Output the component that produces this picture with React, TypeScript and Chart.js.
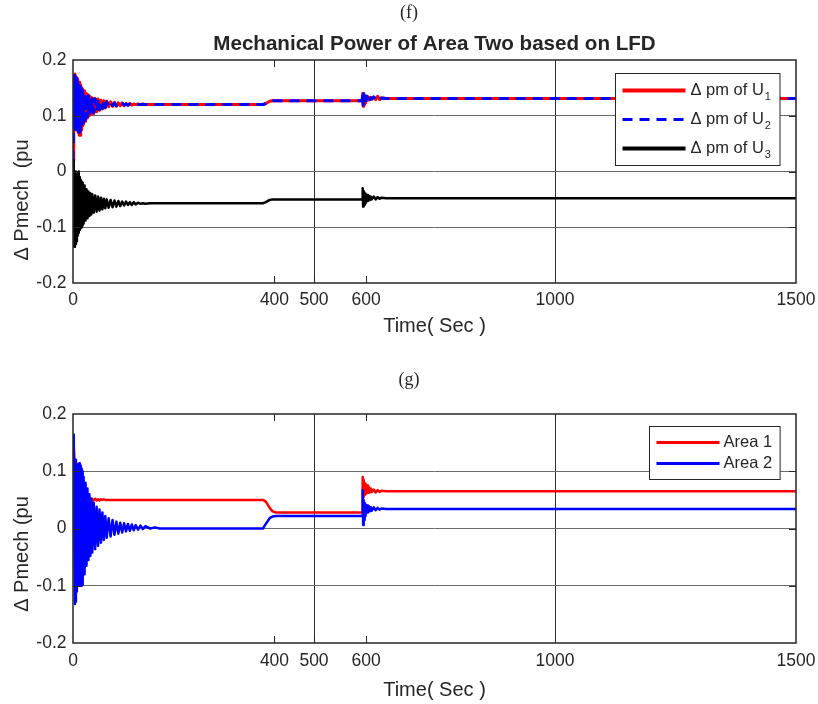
import { useEffect, useRef } from 'react';
import { Chart, registerables } from 'chart.js';

Chart.register(...registerables);

const FONT = '"Liberation Sans", Arial, Helvetica, sans-serif';
const SERIF = '"Liberation Serif", "DejaVu Serif", "Times New Roman", serif';
const INK = '#262626';

// ---------- data ----------
const timeSec = [
  0, 1, 2, 3, 4, 5, 6, 7, 8, 9, 10, 11, 12, 13, 14, 15, 16, 17, 18, 19, 20,
  22, 24, 26, 28, 30, 32, 34, 36, 38, 40,
  43, 46, 49, 52, 55, 58, 61, 64, 67, 70,
  74, 78, 82, 86, 90,
  94, 98, 102, 106, 110, 114, 118, 122, 126, 130,
  135, 140, 145, 150, 160, 170, 180, 200, 300,
  394, 400, 408, 414, 421, 450, 500,
  598, 600, 601, 602, 603, 604, 605, 606, 607, 608,
  610, 612, 614, 616, 618, 620,
  624, 628, 632, 636, 640,
  650, 700, 800, 1000, 1200, 1500,
];

// (f) mechanical power of the three units of area two
const pmU1 = [
  0.02, 0.07, 0.172, 0.09, 0.175, 0.075, 0.17, 0.09, 0.168, 0.08, 0.165, 0.07, 0.16, 0.065, 0.16, 0.065, 0.155, 0.075, 0.15, 0.082, 0.148,
  0.085, 0.145, 0.09, 0.14, 0.096, 0.137, 0.1, 0.134, 0.103, 0.132,
  0.104, 0.131, 0.107, 0.13, 0.11, 0.128, 0.112, 0.127, 0.114, 0.126,
  0.116, 0.125, 0.117, 0.124, 0.117,
  0.123, 0.118, 0.123, 0.118, 0.122, 0.119, 0.122, 0.119, 0.121, 0.12,
  0.121, 0.12, 0.121, 0.12, 0.12, 0.12, 0.12, 0.12, 0.12,
  0.12, 0.122, 0.126, 0.127, 0.127, 0.127, 0.127,
  0.127, 0.127, 0.14, 0.117, 0.139, 0.12, 0.137, 0.123, 0.135, 0.126,
  0.134, 0.128, 0.133, 0.129, 0.133, 0.13,
  0.133, 0.129, 0.135, 0.129, 0.132,
  0.131, 0.131, 0.131, 0.131, 0.131, 0.131,
];
const pmU2 = [
  0.02, 0.06, 0.165, 0.08, 0.172, 0.07, 0.168, 0.085, 0.17, 0.075, 0.162, 0.068, 0.158, 0.062, 0.155, 0.068, 0.152, 0.078, 0.148, 0.085, 0.145,
  0.088, 0.142, 0.093, 0.138, 0.098, 0.136, 0.101, 0.133, 0.104, 0.131,
  0.105, 0.13, 0.108, 0.129, 0.111, 0.127, 0.113, 0.126, 0.115, 0.125,
  0.117, 0.124, 0.118, 0.123, 0.118,
  0.122, 0.119, 0.122, 0.119, 0.121, 0.119, 0.121, 0.12, 0.121, 0.12,
  0.12, 0.12, 0.12, 0.12, 0.12, 0.12, 0.12, 0.12, 0.12,
  0.12, 0.122, 0.126, 0.127, 0.127, 0.127, 0.127,
  0.127, 0.128, 0.141, 0.119, 0.14, 0.121, 0.136, 0.124, 0.134, 0.127,
  0.135, 0.128, 0.134, 0.129, 0.132, 0.13,
  0.134, 0.129, 0.133, 0.13, 0.132,
  0.131, 0.131, 0.131, 0.131, 0.131, 0.131,
];
const pmU3 = [
  0.02, -0.06, 0.0, -0.135, -0.01, -0.13, 0.0, -0.125, -0.005, -0.115, -0.008, -0.11, 0.0, -0.105, -0.01, -0.102, -0.015, -0.1, -0.018, -0.097, -0.02,
  -0.093, -0.025, -0.088, -0.032, -0.084, -0.036, -0.08, -0.039, -0.077, -0.041,
  -0.074, -0.043, -0.072, -0.045, -0.07, -0.047, -0.068, -0.049, -0.066, -0.05,
  -0.065, -0.051, -0.064, -0.052, -0.063,
  -0.053, -0.062, -0.054, -0.061, -0.054, -0.06, -0.055, -0.06, -0.055, -0.059,
  -0.056, -0.058, -0.057, -0.058, -0.057, -0.057, -0.057, -0.057, -0.057,
  -0.057, -0.055, -0.051, -0.05, -0.05, -0.05, -0.05,
  -0.05, -0.05, -0.03, -0.063, -0.035, -0.06, -0.038, -0.057, -0.04, -0.055,
  -0.042, -0.053, -0.044, -0.051, -0.045, -0.05,
  -0.045, -0.05, -0.046, -0.049, -0.047,
  -0.048, -0.048, -0.048, -0.048, -0.048, -0.048,
];

// (g) mechanical power of the two areas
const areaOne = [
  0.0, 0.1, 0.145, 0.12, 0.06, 0.028, 0.05, 0.09, 0.113, 0.1, 0.075, 0.055, 0.045, 0.05, 0.06, 0.065, 0.06, 0.05, 0.045, 0.048, 0.055,
  0.065, 0.068, 0.06, 0.045, 0.052, 0.056, 0.048, 0.053, 0.049, 0.052,
  0.049, 0.052, 0.049, 0.051, 0.049, 0.051, 0.05, 0.051, 0.05, 0.05,
  0.05, 0.05, 0.05, 0.05, 0.05,
  0.05, 0.05, 0.05, 0.05, 0.05, 0.05, 0.05, 0.05, 0.05, 0.05,
  0.05, 0.05, 0.05, 0.05, 0.05, 0.05, 0.05, 0.05, 0.05,
  0.05, 0.047, 0.036, 0.03, 0.028, 0.028, 0.028,
  0.028, 0.028, 0.09, 0.055, 0.085, 0.058, 0.08, 0.06, 0.078, 0.061,
  0.075, 0.062, 0.072, 0.063, 0.07, 0.064,
  0.068, 0.063, 0.067, 0.064, 0.066,
  0.065, 0.065, 0.065, 0.065, 0.065, 0.065,
];
const areaTwo = [
  0.0, 0.08, 0.164, -0.05, -0.132, 0.12, -0.128, 0.1, -0.11, 0.11, -0.1, 0.112, -0.1, 0.114, -0.1, 0.11, -0.1, 0.105, -0.1, 0.1, -0.098,
  0.09, -0.08, 0.08, -0.065, 0.07, -0.055, 0.06, -0.048, 0.052, -0.042,
  0.045, -0.036, 0.038, -0.03, 0.033, -0.025, 0.028, -0.02, 0.022, -0.016,
  0.018, -0.014, 0.015, -0.011, 0.012,
  -0.009, 0.01, -0.007, 0.009, -0.005, 0.008, -0.004, 0.007, -0.003, 0.006,
  -0.002, 0.005, -0.001, 0.004, 0.0, 0.002, 0.0, 0.0, 0.0,
  0.0, 0.008, 0.018, 0.021, 0.022, 0.022, 0.022,
  0.022, 0.022, 0.067, 0.006, 0.05, 0.015, 0.045, 0.022, 0.042, 0.026,
  0.04, 0.028, 0.039, 0.03, 0.037, 0.031,
  0.037, 0.032, 0.036, 0.033, 0.035,
  0.034, 0.034, 0.034, 0.034, 0.034, 0.034,
];

const xTickValues = [0, 418, 500, 608, 1000, 1500];
const xTickLabels = ['0', '400', '500', '600', '1000', '1500'];
const xGridValues = [500, 1000];
const yTickValues = [-0.2, -0.1, 0, 0.1, 0.2];
const yTickLabels = ['-0.2', '-0.1', '0', '0.1', '0.2'];
const yGridValues = [-0.1, 0, 0.1];

const xAxisTitle = 'Time( Sec )';
const seriesBaseF = ['Δ pm of U', 'Δ pm of U', 'Δ pm of U'];
const seriesSubF = ['1', '2', '3'];
const seriesNamesG = ['Area 1', 'Area 2'];

// ---------- chart helpers ----------
type LegendEntry = { text: string; sub?: string; color: string; dash: number[]; width: number };
type LegendLayout = {
  right: number; top: number; firstRow: number; rowH: number;
  lineStart: number; lineLen: number; gap: number; padRight: number; fontSize: number;
};
type PanelSpec = {
  panelLabel: string; panelY: number;
  title?: string; titleY?: number;
  yTitle: string; yTitleOffset: number;
  legend: LegendEntry[]; legendLayout: LegendLayout;
  padTop: number; xAxisHeight: number; xTitlePadBottom: number; xTickPad: number;
  datasets: any[];
};

const toXY = (vals: number[]) => vals.map((v, i) => ({ x: timeSec[i], y: v }));

function makeChart(canvas: HTMLCanvasElement, spec: PanelSpec) {
  const decor = {
    id: 'decor',
    afterDraw(chart: any) {
      const { ctx, chartArea: a } = chart;
      const xs = chart.scales.x;
      const ys = chart.scales.y;
      ctx.save();
      // inward tick marks
      ctx.strokeStyle = INK;
      ctx.lineWidth = 1;
      ctx.setLineDash([]);
      ctx.beginPath();
      for (const v of xTickValues) {
        const px = Math.round(xs.getPixelForValue(v)) + 0.5;
        if (px < a.left + 2 || px > a.right - 2) continue;
        ctx.moveTo(px, a.bottom); ctx.lineTo(px, a.bottom - 7);
        ctx.moveTo(px, a.top); ctx.lineTo(px, a.top + 7);
      }
      for (const v of yTickValues) {
        const py = Math.round(ys.getPixelForValue(v)) + 0.5;
        if (py < a.top + 2 || py > a.bottom - 2) continue;
        ctx.moveTo(a.left, py); ctx.lineTo(a.left + 7, py);
        ctx.moveTo(a.right, py); ctx.lineTo(a.right - 7, py);
      }
      ctx.stroke();
      // frame
      ctx.lineWidth = 1.5;
      ctx.strokeRect(a.left, a.top, a.right - a.left, a.bottom - a.top);

      // legend
      const L = spec.legendLayout;
      const mainFont = `${L.fontSize}px ${FONT}`;
      const subFont = `${Math.round(L.fontSize * 0.68)}px ${FONT}`;
      let maxW = 0;
      for (const e of spec.legend) {
        ctx.font = mainFont;
        let w = ctx.measureText(e.text).width;
        if (e.sub) { ctx.font = subFont; w += 1 + ctx.measureText(e.sub).width; }
        maxW = Math.max(maxW, w);
      }
      const boxW = L.lineStart + L.lineLen + L.gap + maxW + L.padRight;
      const boxH = 2 * L.firstRow + (spec.legend.length - 1) * L.rowH;
      const bx = Math.round(a.right - L.right - boxW) + 0.5;
      const by = Math.round(a.top + L.top) + 0.5;
      ctx.fillStyle = '#ffffff';
      ctx.fillRect(bx, by, boxW, boxH);
      ctx.strokeStyle = INK;
      ctx.lineWidth = 1;
      ctx.strokeRect(bx, by, boxW, boxH);
      spec.legend.forEach((e, i) => {
        const ry = by + L.firstRow + i * L.rowH;
        ctx.beginPath();
        ctx.strokeStyle = e.color;
        ctx.lineWidth = e.width;
        ctx.setLineDash(e.dash);
        ctx.moveTo(bx + L.lineStart, ry);
        ctx.lineTo(bx + L.lineStart + L.lineLen, ry);
        ctx.stroke();
        ctx.setLineDash([]);
        const tx = bx + L.lineStart + L.lineLen + L.gap;
        ctx.fillStyle = INK;
        ctx.textAlign = 'left';
        ctx.textBaseline = 'middle';
        ctx.font = mainFont;
        ctx.fillText(e.text, tx, ry);
        if (e.sub) {
          const w = ctx.measureText(e.text).width;
          ctx.font = subFont;
          ctx.fillText(e.sub, tx + w + 1, ry + 6);
        }
      });

      // panel label
      ctx.fillStyle = INK;
      ctx.textAlign = 'center';
      ctx.textBaseline = 'middle';
      ctx.font = `18px ${SERIF}`;
      ctx.fillText(spec.panelLabel, 409, spec.panelY);
      // title
      if (spec.title) {
        ctx.font = `bold 20.6px ${FONT}`;
        ctx.fillText(spec.title, (a.left + a.right) / 2, spec.titleY);
      }
      // y axis title
      ctx.save();
      ctx.translate(22, a.top + spec.yTitleOffset);
      ctx.rotate(-Math.PI / 2);
      ctx.font = `20px ${FONT}`;
      ctx.fillText(spec.yTitle, 0, 0);
      ctx.restore();
      ctx.restore();
    },
  };

  return new Chart(canvas, {
    type: 'line',
    data: { datasets: spec.datasets },
    options: {
      responsive: false,
      animation: false,
      events: [],
      layout: { padding: { top: spec.padTop, right: 22, bottom: 0, left: 0 } },
      plugins: {
        legend: { display: false },
        title: { display: false },
        tooltip: { enabled: false },
      },
      elements: {
        point: { radius: 0 },
        line: { tension: 0, borderJoinStyle: 'round', borderCapStyle: 'butt' },
      },
      scales: {
        x: {
          type: 'linear',
          min: 0,
          max: 1500,
          afterBuildTicks: (s: any) => { s.ticks = xTickValues.map((v) => ({ value: v })); },
          afterFit: (s: any) => {
            s.height = spec.xAxisHeight;
            s.paddingLeft = 0;
            s.paddingRight = 0;
          },
          ticks: {
            autoSkip: false,
            maxRotation: 0,
            padding: spec.xTickPad,
            color: INK,
            font: { family: FONT, size: 17.5 },
            callback: (_v: any, i: number) => xTickLabels[i],
          },
          grid: {
            drawTicks: false,
            lineWidth: 1,
            color: (c: any) => (xGridValues.includes(c.tick?.value) ? '#303030' : 'rgba(0,0,0,0)'),
          },
          border: { display: false },
          title: {
            display: true,
            text: xAxisTitle,
            color: INK,
            font: { family: FONT, size: 20 },
            padding: { top: 0, bottom: spec.xTitlePadBottom },
          },
        },
        y: {
          type: 'linear',
          min: -0.2,
          max: 0.2,
          afterBuildTicks: (s: any) => { s.ticks = yTickValues.map((v) => ({ value: v })); },
          afterFit: (s: any) => { s.width = 73; },
          ticks: {
            padding: 6.5,
            color: INK,
            font: { family: FONT, size: 17.5 },
            callback: (_v: any, i: number) => yTickLabels[i],
          },
          grid: {
            drawTicks: false,
            lineWidth: 1,
            color: (c: any) => (yGridValues.includes(c.tick?.value) ? '#6a6a6a' : 'rgba(0,0,0,0)'),
          },
          border: { display: false },
        },
      },
    } as any,
    plugins: [decor],
  });
}

const RED = '#ff0000';
const BLUE = '#0000ff';
const BLACK = '#000000';

const specF: PanelSpec = {
  panelLabel: '(f)',
  panelY: 13,
  title: 'Mechanical Power of Area Two based on LFD',
  titleY: 44,
  yTitle: 'Δ Pmech  (pu',
  yTitleOffset: 140,
  padTop: 60,
  xAxisHeight: 69,
  xTitlePadBottom: 14,
  xTickPad: 7,
  legend: [
    { text: seriesBaseF[0], sub: seriesSubF[0], color: RED, dash: [], width: 4 },
    { text: seriesBaseF[1], sub: seriesSubF[1], color: BLUE, dash: [10, 7], width: 3 },
    { text: seriesBaseF[2], sub: seriesSubF[2], color: BLACK, dash: [], width: 4 },
  ],
  legendLayout: { right: 17, top: 13, firstRow: 17, rowH: 29, lineStart: 7, lineLen: 63, gap: 5, padRight: 9, fontSize: 16.5 },
  datasets: [
    { label: seriesBaseF[0] + seriesSubF[0], data: toXY(pmU1), borderColor: RED, borderWidth: 3, order: 3 },
    { label: seriesBaseF[1] + seriesSubF[1], data: toXY(pmU2), borderColor: BLUE, borderWidth: 3, borderDash: [10, 7], order: 2 },
    { label: seriesBaseF[2] + seriesSubF[2], data: toXY(pmU3), borderColor: BLACK, borderWidth: 2.5, order: 1 },
  ],
};

const specG: PanelSpec = {
  panelLabel: '(g)',
  panelY: 28,
  yTitle: 'Δ Pmech (pu',
  yTitleOffset: 140,
  padTop: 62,
  xAxisHeight: 61,
  xTitlePadBottom: 2,
  xTickPad: 8,
  legend: [
    { text: seriesNamesG[0], color: RED, dash: [], width: 3 },
    { text: seriesNamesG[1], color: BLUE, dash: [], width: 3 },
  ],
  legendLayout: { right: 16, top: 12, firstRow: 16, rowH: 21, lineStart: 7, lineLen: 63, gap: 4, padRight: 8, fontSize: 16.5 },
  datasets: [
    { label: seriesNamesG[0], data: toXY(areaOne), borderColor: RED, borderWidth: 2.5, order: 2 },
    { label: seriesNamesG[1], data: toXY(areaTwo), borderColor: BLUE, borderWidth: 2.5, order: 1 },
  ],
};

export default function App() {
  const topRef = useRef<HTMLCanvasElement>(null);
  const bottomRef = useRef<HTMLCanvasElement>(null);

  useEffect(() => {
    if (!topRef.current || !bottomRef.current) return;
    const c1 = makeChart(topRef.current, specF);
    const c2 = makeChart(bottomRef.current, specG);
    return () => {
      c1.destroy();
      c2.destroy();
    };
  }, []);

  return (
    <div style={{ position: 'absolute', left: 0, top: 0, width: 818, height: 704, background: '#ffffff' }}>
      <canvas ref={topRef} width={818} height={352} style={{ position: 'absolute', left: 0, top: 0 }} />
      <canvas ref={bottomRef} width={818} height={352} style={{ position: 'absolute', left: 0, top: 352 }} />
    </div>
  );
}
